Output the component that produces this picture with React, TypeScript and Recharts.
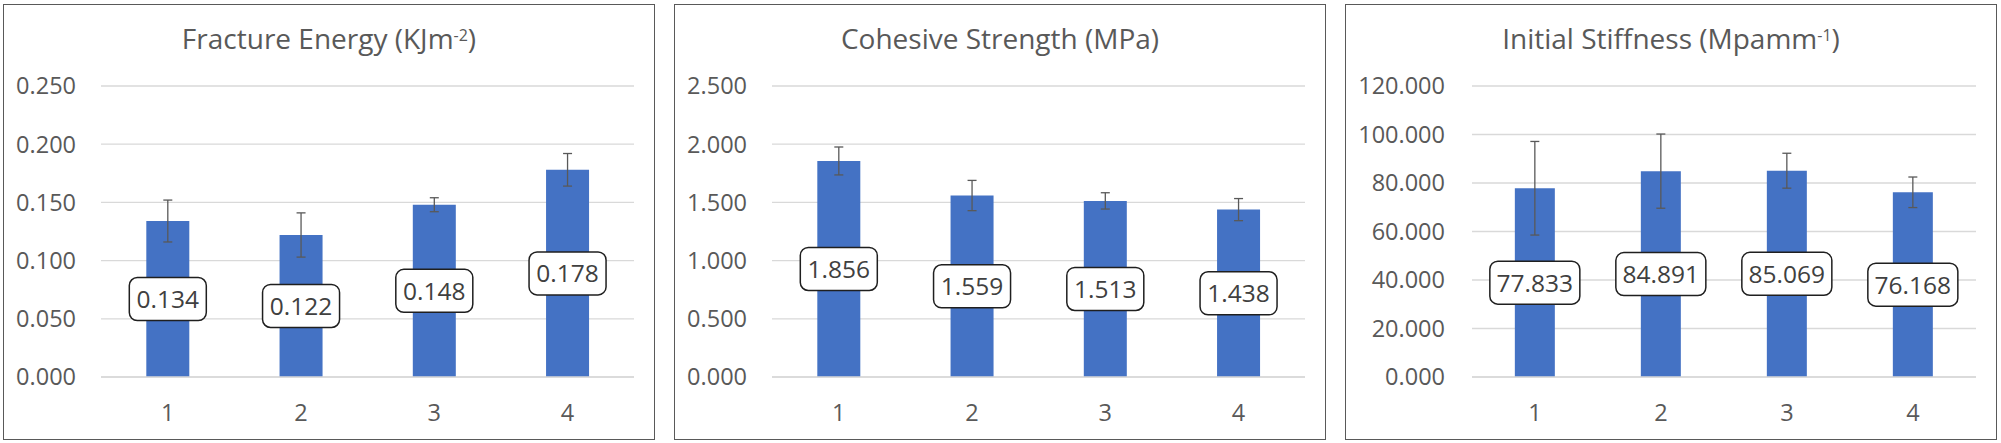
import { BarChart, Bar, XAxis, YAxis, CartesianGrid, ErrorBar, LabelList } from 'recharts';

const categories = ['1', '2', '3', '4'];

const fractureEnergy = [0.134, 0.122, 0.148, 0.178];
const fractureEnergyErr = [0.018, 0.019, 0.006, 0.014];
const fractureTicks = [0, 0.05, 0.1, 0.15, 0.2, 0.25];

const cohesiveStrength = [1.856, 1.559, 1.513, 1.438];
const cohesiveStrengthErr = [0.12, 0.13, 0.07, 0.095];
const cohesiveTicks = [0, 0.5, 1, 1.5, 2, 2.5];

const initialStiffness = [77.833, 84.891, 85.069, 76.168];
const initialStiffnessErr = [19.3, 15.3, 7.2, 6.3];
const stiffnessTicks = [0, 20, 40, 60, 80, 100, 120];

const FONT = '"Open Sans", sans-serif';
const PANEL_W = 652;
const CHART_H = 443;

function ValueBox(props: any) {
  const { x, y, width, height, value } = props;
  const text = Number(value).toFixed(3);
  const w = 13 * text.length + 12;
  const h = 43;
  const cx = x + width / 2;
  const cy = y + height / 2;
  return (
    <g>
      <rect x={cx - w / 2} y={cy - h / 2} width={w} height={h} rx={8} ry={8} fill="#ffffff" stroke="#1f1f1f" strokeWidth={1.5} />
      <text x={cx} y={cy} dy="0.37em" textAnchor="middle" fontSize={24.5} fontFamily={FONT} fill="#404040">
        {text}
      </text>
    </g>
  );
}

function Panel({ left, title, values, errors, ticks, yWidth, yMargin }: any) {
  const data = categories.map((name, i) => ({ name, value: values[i], err: errors[i] }));
  return (
    <>
      <div
        style={{
          position: 'absolute',
          left,
          top: 4,
          width: PANEL_W,
          height: 436,
          boxSizing: 'border-box',
          border: '1.5px solid #595959',
        }}
      />
      <div
        style={{
          position: 'absolute',
          left,
          top: 0,
          width: PANEL_W,
          height: CHART_H,
        }}
      >
        <BarChart
          width={PANEL_W}
          height={CHART_H}
          data={data}
          margin={{ top: 86, right: 21, bottom: 0, left: 0 }}
          barCategoryGap="34%"
          style={{ fontFamily: FONT }}
        >
          <CartesianGrid vertical={false} stroke="#D9D9D9" strokeWidth={1.3} />
          <XAxis
            dataKey="name"
            height={66}
            axisLine={{ stroke: '#D9D9D9', strokeWidth: 1.3 }}
            tickLine={false}
            tickMargin={21}
            tick={{ fontSize: 23.5, fill: '#595959', fontFamily: FONT }}
          />
          <YAxis
            width={yWidth}
            domain={[ticks[0], ticks[ticks.length - 1]]}
            ticks={ticks}
            axisLine={false}
            tickLine={false}
            tickMargin={yMargin}
            tickFormatter={(v: number) => v.toFixed(3)}
            tick={{ fontSize: 23.5, fill: '#595959', fontFamily: FONT }}
          />
          <Bar dataKey="value" fill="#4472C4" isAnimationActive={false}>
            <ErrorBar dataKey="err" width={4.5} stroke="#595959" strokeWidth={1.3} isAnimationActive={false} />
            <LabelList dataKey="value" content={ValueBox} />
          </Bar>
        </BarChart>
      </div>
      <div
        style={{
          position: 'absolute',
          left,
          top: 23.6,
          width: PANEL_W,
          textAlign: 'center',
          fontFamily: FONT,
          fontSize: 28,
          lineHeight: 1,
          color: '#595959',
          whiteSpace: 'nowrap',
        }}
      >
        {title}
      </div>
    </>
  );
}

const sup = (s: string) => (
  <span style={{ fontSize: 16, verticalAlign: 7.6, lineHeight: 1 }}>{s}</span>
);

export default function App() {
  return (
    <div style={{ position: 'absolute', left: 0, top: 0, width: 2001, height: 443, background: '#ffffff' }}>
      <Panel
        left={3}
        title={<>Fracture Energy (KJm{sup('-2')})</>}
        values={fractureEnergy}
        errors={fractureEnergyErr}
        ticks={fractureTicks}
        yWidth={98}
        yMargin={19}
      />
      <Panel
        left={674}
        title={<>Cohesive Strength (MPa)</>}
        values={cohesiveStrength}
        errors={cohesiveStrengthErr}
        ticks={cohesiveTicks}
        yWidth={98}
        yMargin={19}
      />
      <Panel
        left={1345}
        title={<>Initial Stiffness (Mpamm{sup('-1')})</>}
        values={initialStiffness}
        errors={initialStiffnessErr}
        ticks={stiffnessTicks}
        yWidth={127}
        yMargin={21}
      />
    </div>
  );
}
